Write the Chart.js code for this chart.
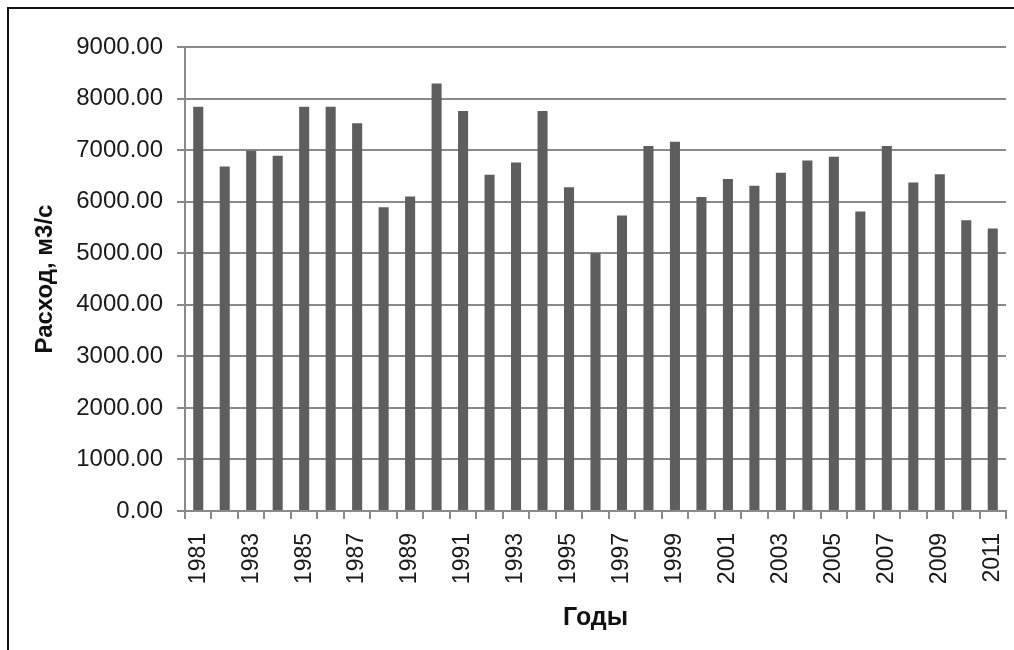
<!DOCTYPE html>
<html>
<head>
<meta charset="utf-8">
<script src="https://cdn.jsdelivr.net/npm/chart.js@4/dist/chart.umd.min.js"></script>
<style>
  html, body { margin: 0; padding: 0; background: #fff; }
  #wrap { position: relative; width: 1014px; height: 650px; overflow: hidden; }
  #frame {
    position: absolute; left: 7px; top: 7px; right: -10px; bottom: -10px;
    border-left: 2px solid #111; border-top: 2px solid #111;
    pointer-events: none;
  }
</style>
</head>
<body>
<div id="wrap">
  <canvas id="c" width="1014" height="650"></canvas>
  <div id="frame"></div>
</div>
<script>
// Годы наблюдений
const years = [
  '1981','1982','1983','1984','1985','1986','1987','1988','1989','1990',
  '1991','1992','1993','1994','1995','1996','1997','1998','1999','2000',
  '2001','2002','2003','2004','2005','2006','2007','2008','2009','2010','2011'
];

// Среднегодовой расход воды, м3/с
const discharge = [
  7840, 6680, 6990, 6890, 7840, 7840, 7520, 5890, 6100, 8290,
  7760, 6520, 6760, 7760, 6280, 5000, 5730, 7080, 7160, 6090,
  6440, 6310, 6560, 6800, 6870, 5810, 7080, 6370, 6530, 5640, 5480
];

const yMax = 9000;
const yStep = 1000;

const axisTitleY = 'Расход, м3/с';
const axisTitleX = 'Годы';

const FONT = "'Liberation Sans', Arial, sans-serif";
const gridGray = '#8a8a8a';

new Chart(document.getElementById('c'), {
  type: 'bar',
  data: {
    labels: years,
    datasets: [{
      data: discharge,
      backgroundColor: '#5e5e5e',
      borderWidth: 0,
      categoryPercentage: 1.0,
      barPercentage: 0.38
    }]
  },
  options: {
    responsive: false,
    animation: false,
    layout: { padding: { left: 0, right: 8, top: 47, bottom: 0 } },
    plugins: {
      legend: { display: false },
      tooltip: { enabled: false }
    },
    scales: {
      x: {
        offset: true,
        grid: {
          offset: true,
          drawOnChartArea: false,
          drawTicks: true,
          tickLength: 8,
          color: gridGray,
          lineWidth: 2
        },
        border: { display: true, color: gridGray, width: 2 },
        ticks: {
          autoSkip: false,
          minRotation: 90,
          maxRotation: 90,
          padding: 14,
          color: '#1a1a1a',
          font: { family: FONT, size: 23 },
          callback: function (value, index) {
            return index % 2 === 0 ? this.getLabelForValue(value) : '';
          }
        },
        title: {
          display: true,
          text: axisTitleX,
          color: '#111',
          font: { family: FONT, size: 25, weight: 'bold' },
          padding: { top: 0, bottom: 17 }
        },
        afterFit: function (scale) {
          scale.height = 139;
          // the rotated end labels fit inside the frame; no extra side room
          scale.paddingLeft = 0;
          scale.paddingRight = 0;
        }
      },
      y: {
        min: 0,
        max: yMax,
        grid: {
          drawTicks: true,
          tickLength: 8,
          color: gridGray,
          lineWidth: 2
        },
        border: { display: true, color: gridGray, width: 2 },
        ticks: {
          stepSize: yStep,
          padding: 14,
          color: '#1a1a1a',
          font: { family: FONT, size: 24 },
          callback: function (value) { return Number(value).toFixed(2); }
        },
        title: {
          display: true,
          text: axisTitleY,
          color: '#111',
          font: { family: FONT, size: 24, weight: 'bold' },
          padding: { top: 31, bottom: 0 }
        },
        afterFit: function (scale) { scale.width = 185; }
      }
    }
  }
});
</script>
</body>
</html>
